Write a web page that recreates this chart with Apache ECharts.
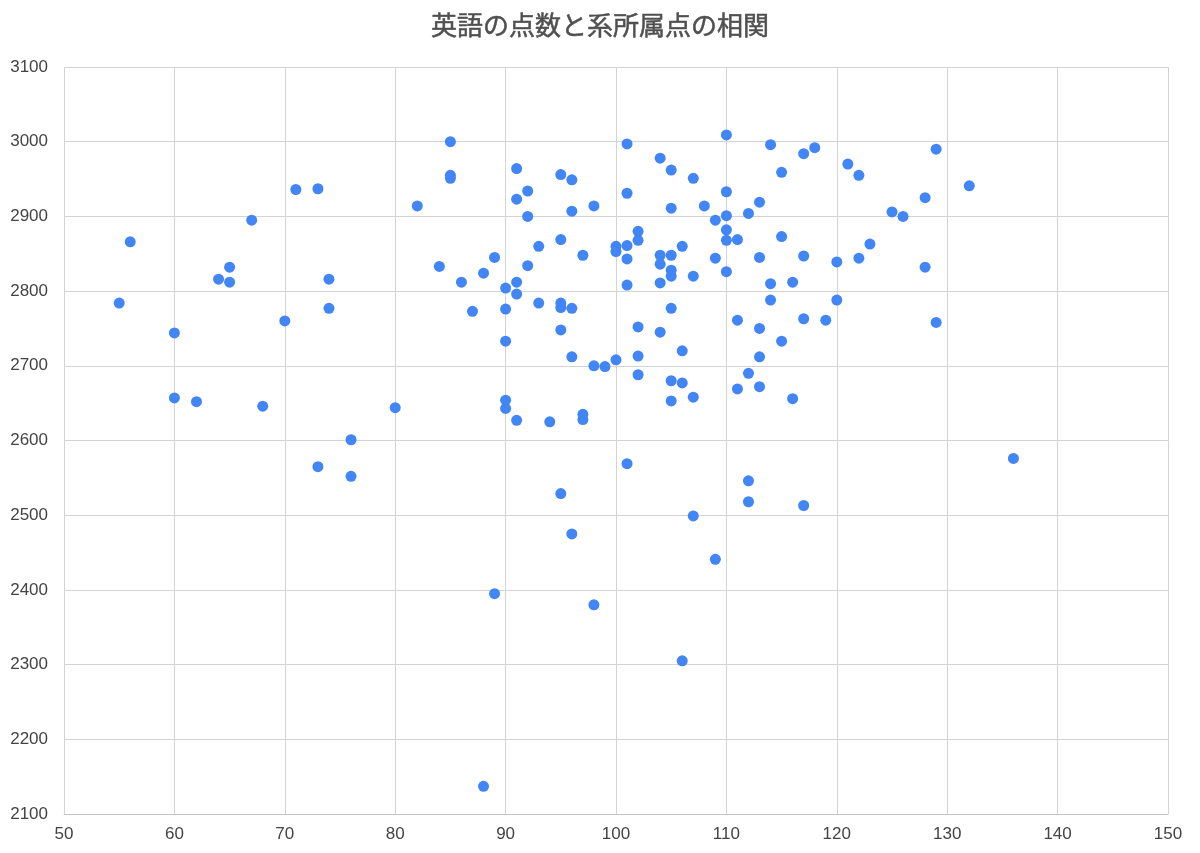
<!DOCTYPE html>
<html>
<head>
<meta charset="utf-8">
<script src="https://cdn.jsdelivr.net/npm/echarts@6/dist/echarts.min.js"></script>
<style>
html,body{margin:0;padding:0;background:#fff;}
#chart{width:1200px;height:853px;}
</style>
</head>
<body>
<div id="chart"></div>
<script>
const chartTitle = "英語の点数と系所属点の相関";
const xTicks = [50, 60, 70, 80, 90, 100, 110, 120, 130, 140, 150];
const yTicks = [2100, 2200, 2300, 2400, 2500, 2600, 2700, 2800, 2900, 3000, 3100];

const englishScores = [
  55, 56, 60, 60, 62, 64, 65, 65, 67, 68, 70, 71, 73, 73, 74, 74, 76, 76, 80, 82,
  84, 85, 85, 85, 86, 87, 88, 88, 89, 89, 90, 90, 90, 90, 90, 91, 91, 91, 91, 91,
  92, 92, 92, 93, 93, 94, 95, 95, 95, 95, 95, 95, 96, 96, 96, 96, 96, 97, 97, 97,
  98, 98, 98, 99, 100, 100, 100, 101, 101, 101, 101, 101, 101, 102, 102, 102, 102, 102,
  104, 104, 104, 104, 104, 105, 105, 105, 105, 105, 105, 105, 105,
  106, 106, 106, 106, 107, 107, 107, 107, 108, 109, 109, 109,
  110, 110, 110, 110, 110, 110, 111, 111, 111, 112, 112, 112, 112,
  113, 113, 113, 113, 113, 114, 114, 114, 115, 115, 115, 116, 116,
  117, 117, 117, 117, 118, 119, 120, 120, 121, 122, 122, 123, 125, 126,
  128, 128, 129, 129, 132, 136
];
const departmentScores = [
  2784, 2866, 2744, 2657, 2652, 2816, 2832, 2812, 2895, 2646, 2760, 2936, 2937, 2565, 2816, 2777, 2601, 2552, 2644, 2914,
  2833, 3000, 2955, 2951, 2812, 2773, 2824, 2137, 2845, 2395, 2804, 2776, 2733, 2654, 2643, 2964, 2923, 2812, 2796, 2627,
  2934, 2900, 2834, 2860, 2784, 2625, 2956, 2869, 2784, 2778, 2748, 2529, 2949, 2907, 2777, 2712, 2475, 2848, 2635, 2628,
  2914, 2700, 2380, 2699, 2708, 2860, 2853, 2997, 2931, 2861, 2843, 2808, 2569, 2880, 2868, 2752, 2713, 2688,
  2978, 2848, 2836, 2811, 2745, 2962, 2911, 2848, 2828, 2820, 2777, 2680, 2653,
  2860, 2720, 2677, 2305, 2951, 2820, 2658, 2499, 2914, 2895, 2844, 2441,
  3009, 2933, 2901, 2882, 2868, 2826, 2869, 2761, 2669, 2904, 2690, 2546, 2518,
  2919, 2845, 2750, 2712, 2672, 2996, 2810, 2788, 2959, 2873, 2733, 2812, 2656,
  2984, 2847, 2763, 2513, 2992, 2761, 2839, 2788, 2970, 2955, 2844, 2863, 2906, 2900,
  2925, 2832, 2990, 2758, 2941, 2576
];

const points = englishScores.map((x, i) => [x, departmentScores[i]]);

const chart = echarts.init(document.getElementById('chart'), null, {renderer: 'canvas'});
chart.setOption({
  animation: false,
  backgroundColor: '#ffffff',
  title: {
    text: chartTitle,
    left: 'center',
    top: 7,
    textStyle: {
      fontFamily: '"Noto Sans CJK JP", "Noto Sans", sans-serif',
      fontSize: 26,
      fontWeight: 'normal',
      color: '#4f4f4f',
      textBorderColor: '#4f4f4f',
      textBorderWidth: 0.5
    }
  },
  grid: { left: 64, right: 32, top: 67, bottom: 39, containLabel: false },
  xAxis: {
    type: 'value',
    min: xTicks[0],
    max: xTicks[xTicks.length - 1],
    interval: 10,
    axisLine: { show: true, lineStyle: { color: '#c4c4c4', width: 1 } },
    axisTick: { show: false },
    axisLabel: { color: '#444', fontSize: 17, fontFamily: '"Liberation Sans", Arial, sans-serif', margin: 12,
                 formatter: v => String(v) },
    splitLine: { show: true, lineStyle: { color: '#d3d3d3', width: 1 } }
  },
  yAxis: {
    type: 'value',
    min: yTicks[0],
    max: yTicks[yTicks.length - 1],
    interval: 100,
    axisLine: { show: false },
    axisTick: { show: false },
    axisLabel: { color: '#444', fontSize: 17, fontFamily: '"Liberation Sans", Arial, sans-serif', margin: 16,
                 formatter: v => String(v) },
    splitLine: { show: true, lineStyle: { color: '#d3d3d3', width: 1 } }
  },
  series: [{
    type: 'scatter',
    data: points,
    symbol: 'circle',
    symbolSize: 11,
    itemStyle: { color: '#4285F4', opacity: 1 }
  }]
});
</script>
</body>
</html>
